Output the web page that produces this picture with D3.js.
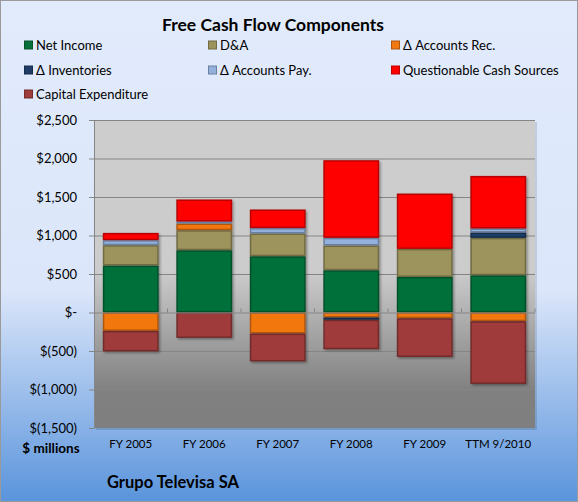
<!DOCTYPE html>
<html>
<head>
<meta charset="utf-8">
<script src="https://d3js.org/d3.v7.min.js"></script>
<style>
    body { margin: 0; }
    text { font-family: Lato, "Open Sans", sans-serif; fill: #000; }
</style>
</head>
<body>
<svg id="chart" width="578" height="502"></svg>
<script>
const width = 578,
    height = 502

const categories = ["FY 2005", "FY 2006", "FY 2007", "FY 2008", "FY 2009", "TTM 9/2010"]
const netIncome = [610, 809, 731, 549, 462, 484]
const depAmort = [264, 260, 295, 321, 364, 485]
const accountsRec = [-239, 87, -273, -65, -75, -113]
const inventories = [0, 0, 0, -30, 0, 70]
const accountsPay = [65, 25, 70, 100, 0, 52]
const questionable = [95, 287, 242, 1008, 719, 683]
const capex = [-267, -330, -363, -382, -502, -814]
const yTicks = [-1500, -1000, -500, 0, 500, 1000, 1500, 2000, 2500]

const series = [
    { key: "ni", name: "Net Income", values: netIncome, color: "#06703a" },
    { key: "da", name: "D&A", values: depAmort, color: "#9c935d" },
    { key: "ar", name: "\u0394 Accounts Rec.", values: accountsRec, color: "#f27811" },
    { key: "inv", name: "\u0394 Inventories", values: inventories, color: "#1f3c68" },
    { key: "ap", name: "\u0394 Accounts Pay.", values: accountsPay, color: "#93b1dc" },
    { key: "q", name: "Questionable Cash Sources", values: questionable, color: "#ff0000" },
    { key: "cx", name: "Capital Expenditure", values: capex, color: "#9f3b3b" }
]

const rows = categories.map((c, i) => {
    const r = { cat: c }
    series.forEach(s => { r[s.key] = s.values[i] })
    return r
})

const plot = { left: 94, right: 535, top: 120, bottom: 428 }

const svg = d3.select("#chart")
const defs = svg.append("defs")

// outer background
const bg = defs.append("linearGradient").attr("id", "bg")
    .attr("x1", 0).attr("y1", 0).attr("x2", 0).attr("y2", 1)
bg.append("stop").attr("offset", 0).attr("stop-color", "#e1ebfc")
bg.append("stop").attr("offset", 0.58).attr("stop-color", "#dbe6fa")
bg.append("stop").attr("offset", 1).attr("stop-color", "#5a94dc")

// plot area
const pg = defs.append("linearGradient").attr("id", "plotbg")
    .attr("x1", 0).attr("y1", 0).attr("x2", 0).attr("y2", 1)
pg.append("stop").attr("offset", 0).attr("stop-color", "#cdcdcd")
pg.append("stop").attr("offset", 0.49).attr("stop-color", "#cccccc")
pg.append("stop").attr("offset", 0.88).attr("stop-color", "#808080")
pg.append("stop").attr("offset", 1).attr("stop-color", "#7f7f7f")

const shadow = defs.append("filter").attr("id", "shadow")
    .attr("x", "-20%").attr("y", "-20%").attr("width", "140%").attr("height", "140%")
shadow.append("feDropShadow")
    .attr("dx", 1.5).attr("dy", 1.5).attr("stdDeviation", 1)
    .attr("flood-color", "#000").attr("flood-opacity", 0.35)

svg.append("rect")
    .attr("x", 0.5).attr("y", 0.5)
    .attr("width", width - 1).attr("height", height - 1)
    .attr("fill", "url(#bg)")
    .attr("stroke", "#9a9a9a")

svg.append("rect")
    .attr("x", plot.left + 2).attr("y", plot.top + 2)
    .attr("width", plot.right - plot.left).attr("height", plot.bottom - plot.top)
    .attr("fill", "#000").attr("opacity", 0.12)
svg.append("rect")
    .attr("x", plot.left).attr("y", plot.top)
    .attr("width", plot.right - plot.left).attr("height", plot.bottom - plot.top)
    .attr("fill", "url(#plotbg)")

const x = d3.scaleBand()
    .domain(categories)
    .range([plot.left, plot.right])
    .paddingInner(0.24)
    .paddingOuter(0.12)

const y = d3.scaleLinear()
    .domain([-1500, 2500])
    .range([plot.bottom, plot.top])

const fmt = v => {
    if (v === 0) return "$-"
    const s = d3.format(",")(Math.abs(v))
    return v < 0 ? `$(${s})` : `$${s}`
}

// gridlines
svg.append("g")
    .selectAll("line")
    .data(yTicks.filter(d => d !== 0 && d !== -1500))
    .join("line")
    .attr("x1", plot.left).attr("x2", plot.right)
    .attr("y1", d => y(d) + 0.5).attr("y2", d => y(d) + 0.5)
    .attr("stroke", "#858585")

const yAxis = svg.append("g")
    .attr("transform", `translate(${plot.left},0)`)
    .call(d3.axisLeft(y).tickValues(yTicks).tickFormat(fmt).tickSize(5).tickPadding(12))
yAxis.select(".domain").attr("stroke", "#868686")
yAxis.selectAll(".tick line").attr("stroke", "#868686")
yAxis.selectAll(".tick text")
    .style("font-size", "13px")
    .attr("fill", "#000")

// stacked bars
const stack = d3.stack()
    .keys(series.map(s => s.key))
    .offset(d3.stackOffsetDiverging)
const stacked = stack(rows)

const bars = svg.append("g").attr("filter", "url(#shadow)")
stacked.forEach((layer, li) => {
    const s = series[li]
    bars.append("g")
        .selectAll("rect")
        .data(layer.filter(d => d[1] !== d[0]))
        .join("rect")
        .attr("x", d => x(d.data.cat) + 0.75)
        .attr("width", x.bandwidth() - 1.5)
        .attr("y", d => y(Math.max(d[0], d[1])) + 0.75)
        .attr("height", d => Math.max(0.5, Math.abs(y(d[0]) - y(d[1])) - 1.5))
        .attr("fill", s.color)
        .attr("stroke", d3.color(s.color).darker(0.9))
        .attr("stroke-width", 1.5)
})

// category axis at zero
const xAxis = svg.append("g")
    .attr("transform", `translate(0,${y(0)})`)
xAxis.append("line")
    .attr("x1", plot.left).attr("x2", plot.right)
    .attr("y1", 0.5).attr("y2", 0.5)
    .attr("stroke", "#868686")
xAxis.selectAll(".tk")
    .data(categories.map((c, i) => plot.left + (plot.right - plot.left) * (i + 1) / categories.length))
    .join("line")
    .attr("x1", d => d).attr("x2", d => d)
    .attr("y1", 0).attr("y2", -4)
    .attr("stroke", "#868686")

svg.append("g")
    .selectAll("text")
    .data(categories)
    .join("text")
    .attr("x", d => x(d) + x.bandwidth() / 2)
    .attr("y", 448)
    .attr("text-anchor", "middle")
    .style("font-size", "11.5px")
    .text(d => d)

svg.append("text")
    .attr("x", 51).attr("y", 453)
    .attr("text-anchor", "middle")
    .style("font-size", "13.5px").style("font-weight", "bold")
    .text("$ millions")

svg.append("text")
    .attr("x", 107).attr("y", 488)
    .style("font-size", "16.5px").style("font-weight", "bold")
    .text("Grupo Televisa SA")

svg.append("text")
    .attr("x", 273).attr("y", 31)
    .attr("text-anchor", "middle")
    .style("font-size", "17.5px").style("font-weight", "bold")
    .text("Free Cash Flow Components")

// legend, three columns
const colX = [24, 208, 391]
const rowY = [45, 70, 94]
const legend = svg.append("g")
    .selectAll("g")
    .data(series)
    .join("g")
    .attr("transform", (d, i) => `translate(${colX[i % 3]},${rowY[Math.floor(i / 3)]})`)
legend.append("rect")
    .attr("x", 0.5).attr("y", -4)
    .attr("width", 8).attr("height", 8)
    .attr("fill", d => d.color)
    .attr("stroke", d => d3.color(d.color).darker(0.9))
legend.append("text")
    .attr("x", 12).attr("y", 0).attr("dy", "0.35em")
    .style("font-size", "13px")
    .text(d => d.name)
</script>
</body>
</html>
